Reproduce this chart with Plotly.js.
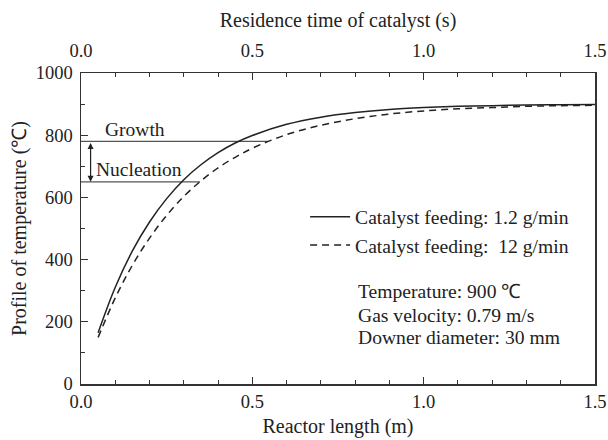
<!DOCTYPE html>
<html>
<head>
<meta charset="utf-8">
<script src="https://cdn.plot.ly/plotly-3.0.1.min.js"></script>
<style>html,body{margin:0;padding:0;background:#fff;}#chart{width:608px;height:440px;}</style>
</head>
<body>
<div id="chart"></div>
<script>
// Reactor length (m)
const lengthM = [0.05,0.10,0.15,0.20,0.25,0.30,0.35,0.40,0.45,0.50,0.60,0.70,0.80,0.90,1.00,1.10,1.20,1.30,1.40,1.50];
// Temperature profile (°C), catalyst feeding 1.2 g/min
const temp12 = [165,311,428,521,596,657,705,744,775,799,835,858,873,883,889,893,895,897,898,899];
// Temperature profile (°C), catalyst feeding 12 g/min
const temp120 = [150,277,382,469,542,603,653,695,729,758,802,832,853,868,878,885,889,893,895,896];
const seriesNames = ["Catalyst feeding: 1.2 g/min", "Catalyst feeding:  12 g/min"];
// Growth / nucleation temperature levels and extents
const growthT = 780, growthEnd = 0.546;
const nucleationT = 650, nucleationEnd = 0.347;
const arrowX = 0.028;
const infoLines = ["Temperature: 900 ℃", "Gas velocity: 0.79 m/s", "Downer diameter: 30 mm"];
const tickVals = [0.0, 0.5, 1.0, 1.5];
const tickText = ["0.0", "0.5", "1.0", "1.5"];
const yTicks = [0, 200, 400, 600, 800, 1000];

const F = "Liberation Serif, Times New Roman, serif";
const ink = "#222";

const traces = [
  {x: [0, growthEnd], y: [growthT, growthT], mode: "lines", line: {color: "#555", width: 1.2}, showlegend: false, hoverinfo: "skip"},
  {x: [0, nucleationEnd], y: [nucleationT, nucleationT], mode: "lines", line: {color: "#555", width: 1.2}, showlegend: false, hoverinfo: "skip"},
  {x: lengthM, y: temp12, mode: "lines", name: seriesNames[0], line: {color: ink, width: 1.5, shape: "spline"}},
  {x: lengthM, y: temp120, mode: "lines", name: seriesNames[1], line: {color: ink, width: 1.5, dash: "7px,5px", shape: "spline"}},
  {x: [0, 1.5], y: [null, null], xaxis: "x2", mode: "lines", showlegend: false, hoverinfo: "skip"}
];

const annotations = [
  {x: 0.158, y: 817, xref: "x", yref: "y", text: "Growth", showarrow: false, font: {family: F, size: 19.5, color: ink}},
  {x: 0.17, y: 691, xref: "x", yref: "y", text: "Nucleation", showarrow: false, font: {family: F, size: 19.5, color: ink}},
  {x: arrowX, y: nucleationT, ax: arrowX, ay: growthT, xref: "x", yref: "y", axref: "x", ayref: "y",
   text: "", showarrow: true, arrowhead: 2, startarrowhead: 2, arrowside: "end+start", arrowsize: 1, arrowwidth: 1.2, arrowcolor: ink}
];
infoLines.forEach((t, i) => {
  annotations.push({x: 0.802, y: [296, 221, 150][i], xref: "x", yref: "y", xanchor: "left", text: t, showarrow: false,
    font: {family: F, size: 19.6, color: ink}});
});

const axisCommon = {
  showgrid: false, zeroline: false, showline: true, linecolor: "#333", linewidth: 1.5,
  ticks: "inside", ticklen: 7, tickwidth: 1.2, tickcolor: "#333",
  tickfont: {family: F, size: 18.5, color: ink}
};

const layout = {
  width: 608, height: 440,
  margin: {l: 81, r: 13, t: 73, b: 56},
  paper_bgcolor: "#fff", plot_bgcolor: "#fff",
  font: {family: F, color: ink},
  showlegend: true,
  legend: {x: 0.436, y: 0.6, xanchor: "left", yanchor: "top", bgcolor: "rgba(0,0,0,0)",
           font: {family: F, size: 19.6, color: ink}, itemwidth: 40, tracegroupgap: 0},
  xaxis: Object.assign({}, axisCommon, {
    range: [0, 1.5], tickvals: tickVals, ticktext: tickText,
    minor: {ticks: "inside", dtick: 0.1, ticklen: 4, tickwidth: 1, tickcolor: "#333"},
    title: {text: "Reactor length (m)", font: {family: F, size: 20, color: ink}, standoff: 8}
  }),
  xaxis2: Object.assign({}, axisCommon, {
    range: [0, 1.5], overlaying: "x", side: "top", anchor: "y", tickvals: tickVals, ticktext: tickText,
    ticklabelstandoff: 7,
    minor: {ticks: "inside", dtick: 0.1, ticklen: 4, tickwidth: 1, tickcolor: "#333"},
    title: {text: "Residence time of catalyst (s)", font: {family: F, size: 20, color: ink}, standoff: 8}
  }),
  yaxis: Object.assign({}, axisCommon, {
    range: [0, 1000], tickvals: yTicks, mirror: true, ticklabelstandoff: 3,
    minor: {ticks: "inside", dtick: 100, ticklen: 4, tickwidth: 1, tickcolor: "#333"},
    title: {text: "Profile of temperature (℃)", font: {family: F, size: 20, color: ink}, standoff: 4}
  }),
  annotations: annotations
};

Plotly.newPlot("chart", traces, layout, {displayModeBar: false, staticPlot: true});
</script>
</body>
</html>
